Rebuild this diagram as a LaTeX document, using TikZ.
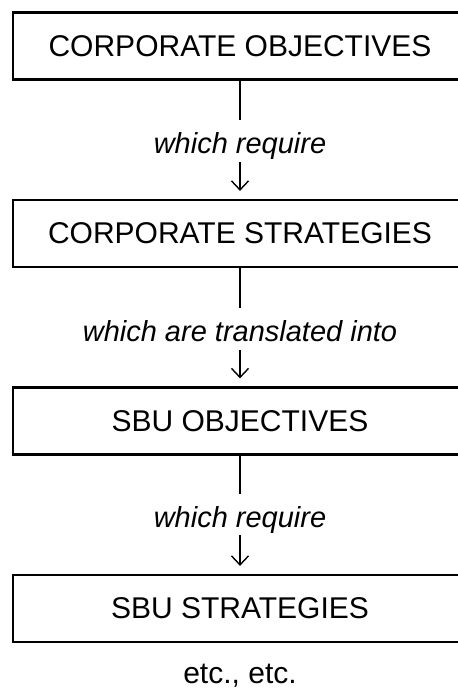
\documentclass[tikz,border=0pt]{standalone}
\usepackage{fontspec}
\setmainfont{Liberation Sans}
\usetikzlibrary{arrows.meta}
\begin{document}
\begin{tikzpicture}[x=1pt,y=-1pt,
  levelbox/.style={draw, line width=2.2pt, minimum width=454pt, minimum height=67pt,
    inner sep=0pt, font=\fontsize{30}{36}\selectfont},
  linklabel/.style={inner sep=0pt, minimum width=10pt, text height=30pt, text depth=5pt,
    font=\fontsize{29}{34}\selectfont\itshape},
  link/.style={line width=1.4pt},
  flow/.style={line width=1.4pt, shorten >=8pt,
    -{Straight Barb[length=9pt,width=17pt,line width=1.4pt]}}]
  \useasboundingbox (0,0) rectangle (458,689);
  \clip (0,0) rectangle (458,689);

  % the four levels of the hierarchy
  \node[levelbox] (b1) at (240,46)    {CORPORATE OBJECTIVES};
  \node[levelbox] (b2) at (240,233.5) {CORPORATE STRATEGIES};
  \node[levelbox] (b3) at (240,421)   {SBU OBJECTIVES};
  \node[levelbox] (b4) at (240,608.5) {SBU STRATEGIES};

  % labels between the levels
  \node[linklabel, minimum height=42pt] (l1) at (240,141)   {which require};
  \node[linklabel, minimum height=42pt] (l2) at (240,329)   {which are translated into};
  \node[linklabel, minimum height=41pt] (l3) at (240,514.5) {which require};

  \node[font=\fontsize{30}{36}\selectfont] (etc) at (240,676) {etc., etc.};

  % connectors
  \draw[link] (b1.south) -- (l1.north);
  \draw[flow] (l1.south) -- (b2.north);
  \draw[link] (b2.south) -- (l2.north);
  \draw[flow] (l2.south) -- (b3.north);
  \draw[link] (b3.south) -- (l3.north);
  \draw[flow] (l3.south) -- (b4.north);
\end{tikzpicture}
\end{document}
